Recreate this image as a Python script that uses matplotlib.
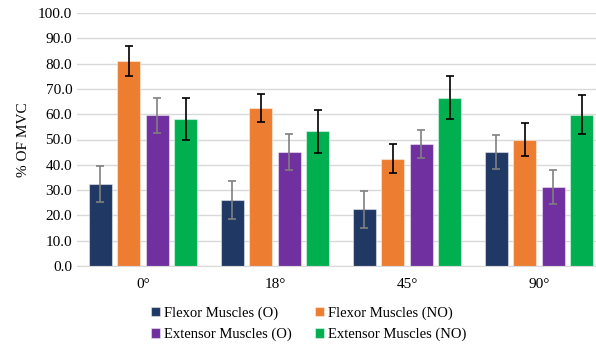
import numpy as np
import matplotlib
matplotlib.use("Agg")
import matplotlib.pyplot as plt

# Data
angles = ["0°", "18°", "45°", "90°"]
series = ["Flexor Muscles (O)", "Flexor Muscles (NO)",
          "Extensor Muscles (O)", "Extensor Muscles (NO)"]
flexor_o = [32.3, 26.0, 22.4, 45.1]
flexor_no = [81.0, 62.3, 42.4, 49.9]
extensor_o = [59.6, 45.1, 48.2, 31.2]
extensor_no = [58.2, 53.2, 66.5, 59.8]
flexor_o_err = [7.1, 7.4, 7.3, 6.6]
flexor_no_err = [6.0, 5.5, 5.8, 6.6]
extensor_o_err = [7.0, 7.0, 5.7, 6.8]
extensor_no_err = [8.4, 8.4, 8.5, 7.8]

values = [flexor_o, flexor_no, extensor_o, extensor_no]
errors = [flexor_o_err, flexor_no_err, extensor_o_err, extensor_no_err]
colors = ["#203864", "#ED7D31", "#7030A0", "#00B050"]
err_colors = ["#808080", "#000000", "#808080", "#000000"]

plt.rcParams['font.family'] = ['Liberation Serif', 'DejaVu Serif']

fig = plt.figure(figsize=(5.96, 3.49), dpi=100)
ax = fig.add_axes([77 / 596, 83 / 349, 528 / 596, 253 / 349])

x = np.arange(len(angles))
width = 0.174
pitch = 0.217
handles = []
for i in range(4):
    pos = x + (i - 1.5) * pitch
    b = ax.bar(pos, values[i], width, color=colors[i], label=series[i],
               edgecolor=(1, 1, 1, 0.45), linewidth=0.8, zorder=2)
    handles.append(b)
    ax.errorbar(pos, values[i], yerr=errors[i], fmt='none',
                ecolor=err_colors[i], elinewidth=1.2, capsize=3,
                capthick=1.2, zorder=3)

ax.set_xlim(-0.5, 3.5)
ax.set_ylim(0, 100)
ax.set_yticks(np.arange(0, 101, 10))
ax.set_yticklabels([f"{v:.1f}" for v in np.arange(0, 101, 10)])
ax.set_xticks(x)
ax.set_xticklabels(angles)
ax.tick_params(axis='both', length=0, labelsize=11, colors='#000000')
ax.tick_params(axis='x', pad=9)
ax.grid(axis='y', color='#D9D9D9', linewidth=1, zorder=0)
for s in ['top', 'right', 'left']:
    ax.spines[s].set_visible(False)
ax.spines['bottom'].set_color('#D9D9D9')
ax.set_ylabel("% OF MVC", fontsize=11, labelpad=6)

# legend filled row by row: reorder for matplotlib's column-wise fill
order = [0, 2, 1, 3]
fig.legend([handles[k] for k in order], [series[k] for k in order],
           loc='upper center', bbox_to_anchor=(0.518, 0.16), ncol=2,
           frameon=False, fontsize=10.5, handlelength=0.6, handleheight=0.6,
           handletextpad=0.3, columnspacing=1.6, labelspacing=0.55)

fig.savefig("out.png", dpi=100)
